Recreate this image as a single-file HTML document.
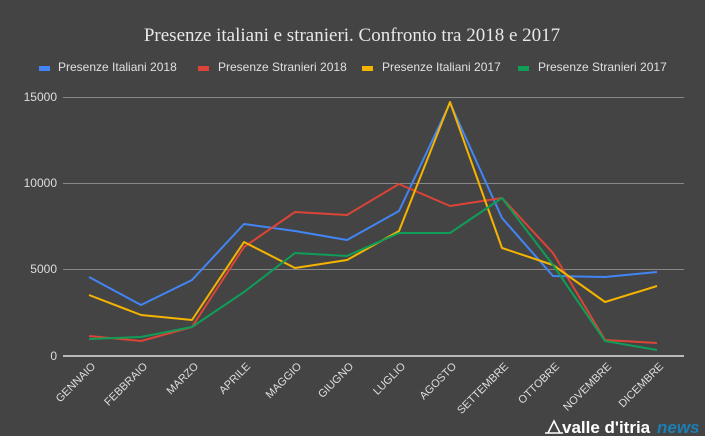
<!DOCTYPE html><html><head><style>body{margin:0;background:#444;}svg{display:block}</style></head><body>
<svg width="705" height="436" xmlns="http://www.w3.org/2000/svg" font-family="Liberation Sans, sans-serif">
<rect width="705" height="436" fill="#444"/>
<text x="352" y="41" text-anchor="middle" font-family="Liberation Serif, serif" font-size="19" fill="#e8e8e8">Presenze italiani e stranieri. Confronto tra 2018 e 2017</text>
<g font-size="12" fill="#e0e0e0">
<rect x="39" y="66" width="11" height="5" fill="#4285f4"/><text x="58" y="71">Presenze Italiani  2018</text>
<rect x="198" y="66" width="11" height="5" fill="#db4437"/><text x="218" y="71">Presenze Stranieri 2018</text>
<rect x="362" y="66" width="11" height="5" fill="#f4b400"/><text x="382" y="71">Presenze Italiani 2017</text>
<rect x="518" y="66" width="11" height="5" fill="#0f9d58"/><text x="538" y="71">Presenze Stranieri 2017</text>
</g>
<g stroke="#888" stroke-width="1">
<line x1="63" y1="97.5" x2="684" y2="97.5"/><line x1="63" y1="183.5" x2="684" y2="183.5"/><line x1="63" y1="269.5" x2="684" y2="269.5"/>
</g>
<line x1="63" y1="356" x2="684" y2="356" stroke="#fff" stroke-width="1.2"/>
<g font-size="12" fill="#ddd" text-anchor="end">
<text x="57" y="101">15000</text><text x="57" y="187">10000</text><text x="57" y="273">5000</text><text x="57" y="360">0</text>
</g>
<g fill="none" stroke-width="2" stroke-linejoin="round">
<polyline stroke="#4285f4" points="89,277 141,305 192,280 244,224 295,231 347,240 399,211 450,103 502,218 553,276 605,277 657,272"/>
<polyline stroke="#db4437" points="89,336 141,341 192,327 244,247 295,212 347,215 399,184 450,206 502,198 553,253 605,340 657,343"/>
<polyline stroke="#f4b400" points="89,295 141,315 192,320 244,242 295,268 347,260 399,231 450,102 502,248 553,265 605,302 657,286"/>
<polyline stroke="#0f9d58" points="89,339 141,337 192,327 244,292 295,253 347,256 399,233 450,233 502,198 553,265 605,341 657,350"/>
</g>
<g font-size="11" fill="#ddd" text-anchor="end">
<text transform="translate(96,367) rotate(-45)">GENNAIO</text>
<text transform="translate(148,367) rotate(-45)">FEBBRAIO</text>
<text transform="translate(199,367) rotate(-45)">MARZO</text>
<text transform="translate(251,367) rotate(-45)">APRILE</text>
<text transform="translate(302,367) rotate(-45)">MAGGIO</text>
<text transform="translate(354,367) rotate(-45)">GIUGNO</text>
<text transform="translate(406,367) rotate(-45)">LUGLIO</text>
<text transform="translate(457,367) rotate(-45)">AGOSTO</text>
<text transform="translate(509,367) rotate(-45)">SETTEMBRE</text>
<text transform="translate(560,367) rotate(-45)">OTTOBRE</text>
<text transform="translate(612,367) rotate(-45)">NOVEMBRE</text>
<text transform="translate(664,367) rotate(-45)">DICEMBRE</text>
</g>
<path d="M548,433 L554,421 L560,433 M545,433 L563,433" stroke="#fff" stroke-width="1.6" fill="none"/>
<text x="562" y="433" font-size="17" font-weight="bold" fill="#fff">valle d'itria</text>
<text x="657" y="433" font-size="17" font-weight="bold" font-style="italic" fill="#1a7fb5">news</text>
</svg></body></html>
